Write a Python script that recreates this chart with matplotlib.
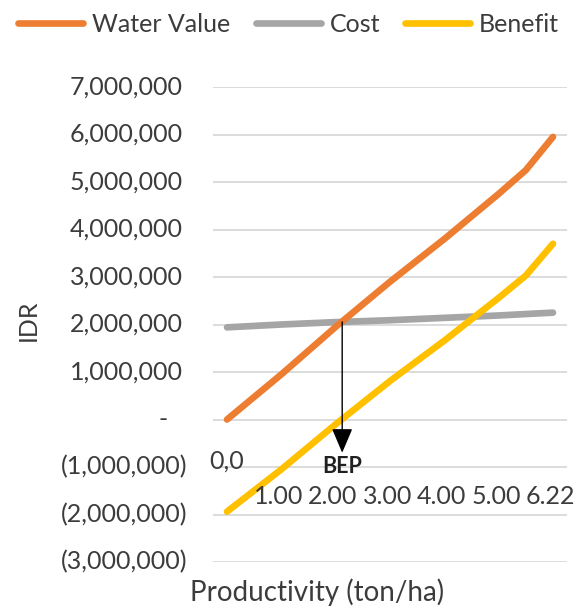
import numpy as np
import matplotlib
matplotlib.use('Agg')
import matplotlib.pyplot as plt

plt.rcParams['font.family'] = ['Lato', 'DejaVu Sans']

# productivity steps (category positions along the x axis)
prod_pos = [0, 1, 2, 3, 4, 5, 5.5, 6]
water_value = [0, 950000, 1950000, 2900000, 3800000, 4750000, 5250000, 5950000]
cost = [1940000, 2000000, 2050000, 2090000, 2140000, 2190000, 2220000, 2250000]
benefit = [-1940000, -1050000, -100000, 810000, 1660000, 2560000, 3030000, 3700000]

y_ticks = [7000000, 6000000, 5000000, 4000000, 3000000, 2000000, 1000000, 0,
           -1000000, -2000000, -3000000]
x_labels = ['1.00', '2.00', '3.00', '4.00', '5.00', '6.22']
bep_x = 2.12
bep_tip = -700000

txt = '#3c3c3c'
fs = 18

fig = plt.figure(figsize=(5.82, 6.09), dpi=100)
ax = fig.add_axes([213/582, 47/609, 354/582, 475/609])

for v in y_ticks:
    ax.axhline(v, color='#dcdcdc', lw=1.4, zorder=0)

lw = 4.8
ax.plot(prod_pos, water_value, color='#ED7D31', lw=lw, solid_capstyle='round', label='Water Value', zorder=3)
ax.plot(prod_pos, cost, color='#A5A5A5', lw=lw, solid_capstyle='round', label='Cost', zorder=2)
ax.plot(prod_pos, benefit, color='#FFC000', lw=lw, solid_capstyle='round', label='Benefit', zorder=3)

ax.set_xlim(-0.258, 6.258)
ax.set_ylim(-3000000, 7000000)
ax.set_xticks([])
ax.set_yticks([])
for s in ax.spines.values():
    s.set_visible(False)

# y labels in accounting style
ytr = ax.get_yaxis_transform()
for v in y_ticks:
    if v > 0:
        ax.text(-0.085, v, f'{v:,.0f}', transform=ytr, ha='right', va='center',
                fontsize=fs, color=txt)
    elif v < 0:
        ax.text(-0.071, v, f'({-v:,.0f})', transform=ytr, ha='right', va='center',
                fontsize=fs, color=txt)
    else:
        ax.text(-0.127, v, '-', transform=ytr, ha='right', va='center',
                fontsize=fs, color=txt)

# category labels
ax.text(0, -880000, '0,0', ha='center', va='center', fontsize=fs, color=txt)
for i, lab in enumerate(x_labels, start=1):
    ax.text(i - 0.05, -1620000, lab, ha='center', va='center', fontsize=fs, color=txt)

# break-even point
bep_y = np.interp(bep_x, prod_pos, cost)
ax.annotate('', xy=(bep_x, bep_tip), xytext=(bep_x, bep_y),
            arrowprops=dict(arrowstyle='-|>,head_length=0.4,head_width=0.17',
                            mutation_scale=38, lw=1, color='black', shrinkA=0, shrinkB=0),
            zorder=4)
ax.text(bep_x, -990000, 'BEP', ha='center', va='center', fontsize=15.5,
        fontweight='bold', color='#202020')

fig.text(28/582, 1-320/609, 'IDR', rotation=90, ha='center', va='center', fontsize=fs, color=txt)
fig.text(190/582, 1-592/609, 'Productivity (ton/ha)', ha='left', va='center', fontsize=20, color=txt)

fig.legend(loc='center', bbox_to_anchor=(0.496, 1-24/609), ncol=3, frameon=False,
           fontsize=fs, handlelength=2.6, handletextpad=0.36, columnspacing=1.0,
           borderpad=0, labelcolor=txt)

fig.savefig('out.png', dpi=100)
